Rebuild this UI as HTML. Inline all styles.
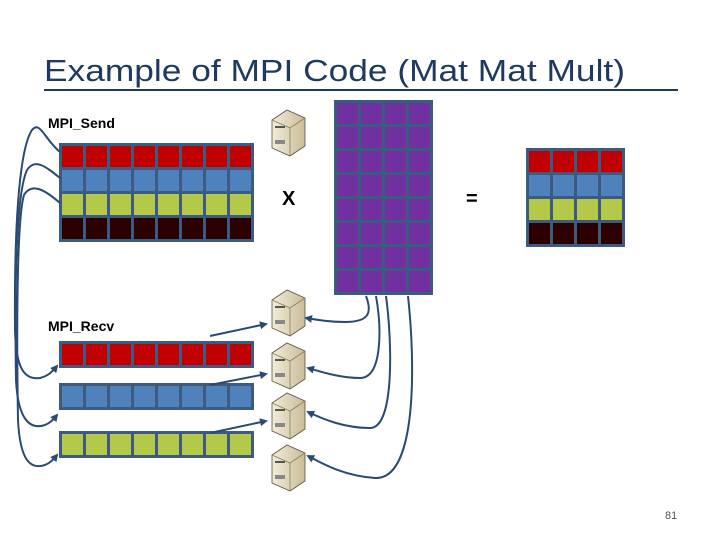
<!DOCTYPE html>
<html><head><meta charset="utf-8"><style>
body{margin:0;background:#fff;}
svg{display:block}
</style></head><body>
<svg id="s" width="720" height="540" xmlns="http://www.w3.org/2000/svg">
<defs>
<marker id="a" markerWidth="8" markerHeight="8" refX="6" refY="4" orient="auto" markerUnits="userSpaceOnUse"><path d="M0,0 L8,4 L0,8 z" fill="#2a4a75"/></marker>
<linearGradient id="sv" x1="0" x2="1"><stop offset="0" stop-color="#f2ecd8"/><stop offset="1" stop-color="#c9bc98"/></linearGradient>
</defs>
<text x="44" y="81" font-family="Liberation Sans, sans-serif" font-size="31" fill="#1f3a5e" textLength="581" lengthAdjust="spacingAndGlyphs">Example of MPI Code (Mat Mat Mult)</text>
<line x1="44" y1="90" x2="678" y2="90" stroke="#1f3a5e" stroke-width="2"/>
<text x="48" y="128" font-family="Liberation Sans, sans-serif" font-size="14" font-weight="bold">MPI_Send</text>
<text x="48" y="331" font-family="Liberation Sans, sans-serif" font-size="14" font-weight="bold">MPI_Recv</text>
<text x="282" y="205" font-family="Liberation Sans, sans-serif" font-size="20" font-weight="bold">X</text>
<text x="466" y="205" font-family="Liberation Sans, sans-serif" font-size="20" font-weight="bold">=</text>
<text x="665" y="519" font-family="Liberation Sans, sans-serif" font-size="11" fill="#555">81</text>
<g id="m"></g>
<g fill="none" stroke="#2a4a75" stroke-width="2">
<path d="M60,152 C45,140 40,120 32,130 C22,145 14,200 15,330 C16,370 25,380 40,378 C48,376 52,372 57,366" marker-end="url(#a)"/>
<path d="M60,178 C45,166 35,158 27,170 C18,190 14,260 16,380 C18,420 30,430 45,425 C50,423 53,420 57,415" marker-end="url(#a)"/>
<path d="M60,203 C45,190 32,182 24,195 C18,215 16,300 18,420 C20,460 30,470 45,465 C50,463 53,460 57,455" marker-end="url(#a)"/>
<path d="M210,336 L266,324" marker-end="url(#a)"/>
<path d="M210,385 L266,374" marker-end="url(#a)"/>
<path d="M210,433 L266,421" marker-end="url(#a)"/>
<path d="M366,296 C372,312 370,322 345,322 C330,322 318,320 306,318" marker-end="url(#a)"/>
<path d="M376,296 C382,330 382,378 360,378 C340,378 322,372 308,368" marker-end="url(#a)"/>
<path d="M386,296 C392,340 395,428 370,428 C345,428 325,420 308,412" marker-end="url(#a)"/>
<path d="M408,296 C415,360 418,480 375,478 C345,476 325,465 308,456" marker-end="url(#a)"/>
</g>
<g id="sv2"></g>
</svg>
<script>
var NS="http://www.w3.org/2000/svg",m=document.getElementById('m');
function r(x,y,w,h,f){var e=document.createElementNS(NS,'rect');e.setAttribute('x',x);e.setAttribute('y',y);e.setAttribute('width',w);e.setAttribute('height',h);e.setAttribute('fill',f);m.appendChild(e);}
function mat(x,y,cols,rows){r(x,y,cols*24+3,rows.length*24+3,'#3d5a80');rows.forEach(function(c,j){for(var i=0;i<cols;i++)r(x+3+i*24,y+3+j*24,21,21,c);});}
var R='#c00000',B='#4f81bd',G='#b4c84a',K='#2a0000',P='#7030a0';
mat(59,143,8,[R,B,G,K]);
mat(334,100,4,[P,P,P,P,P,P,P,P]);
mat(526,148,4,[R,B,G,K]);
mat(59,341,8,[R]);mat(59,383,8,[B]);mat(59,431,8,[G]);
var sg=document.getElementById('sv2');
[[272,110],[272,290],[272,343],[272,393],[272,445]].forEach(function(p){
 var x=p[0],y=p[1];
 sg.innerHTML+='<path d="M'+x+','+(y+10)+' L'+(x+15)+','+y+' L'+(x+33)+','+(y+8)+' L'+(x+33)+','+(y+36)+' L'+(x+18)+','+(y+46)+' L'+x+','+(y+38)+' z" fill="url(#sv)" stroke="#5a5040" stroke-width="0.8"/>'+
 '<path d="M'+x+','+(y+10)+' L'+(x+18)+','+(y+18)+' L'+(x+33)+','+(y+8)+' M'+(x+18)+','+(y+18)+' L'+(x+18)+','+(y+46)+'" fill="none" stroke="#8a7e60" stroke-width="0.8"/>'+
 '<rect x="'+(x+3)+'" y="'+(y+16)+'" width="10" height="2" fill="#555"/><rect x="'+(x+3)+'" y="'+(y+30)+'" width="10" height="4" fill="#888"/>';
});
</script>
</body></html>
